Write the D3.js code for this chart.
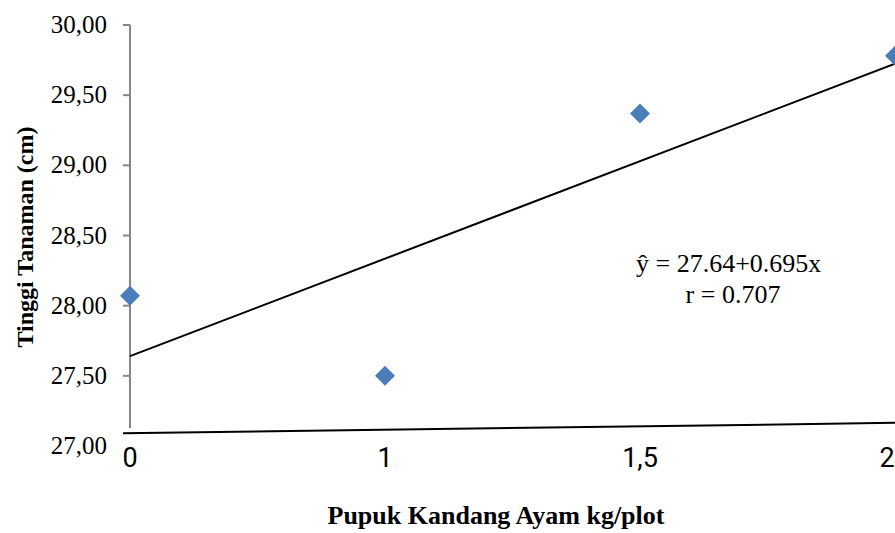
<!DOCTYPE html>
<html lang="en">
<head>
  <meta charset="UTF-8" />
  <title>Tinggi Tanaman vs Pupuk Kandang Ayam</title>
  <style>
    body { margin: 0; background: white; overflow: hidden; }
    svg { display: block; }
    text.serif { font-family: "Liberation Serif", "Times New Roman", serif; }
  </style>
</head>
<body>
<svg width="895" height="533"></svg>
<script src="https://d3js.org/d3.v7.min.js"></script>
<script>
// data
const doses = ["0", "1", "1,5", "2"];
const heights = [28.07, 27.50, 29.37, 29.78];
const yTicks = [27.0, 27.5, 28.0, 28.5, 29.0, 29.5, 30.0];
const trend = { a: 27.64, b: 0.695 };     // fitted on category index
const baseLine = [27.09, 27.165];         // the slanted line along the bottom

const width = 895, height = 533;
const svg = d3.select("svg");

const x = d3.scalePoint().domain(doses).range([130, 895]);
const y = d3.scaleLinear().domain([27, 30]).range([446, 25]);

// y axis (grey line + ticks on the left)
const gy = svg.append("g");
gy.append("line")
  .attr("x1", 130).attr("x2", 130)
  .attr("y1", y(30)).attr("y2", 428)
  .attr("stroke", "#868686").attr("stroke-width", 2);
gy.selectAll("line.tick")
  .data(yTicks.filter(d => d > 27))
  .join("line")
  .attr("class", "tick")
  .attr("x1", 123).attr("x2", 130)
  .attr("y1", d => y(d)).attr("y2", d => y(d))
  .attr("stroke", "#868686").attr("stroke-width", 2);
gy.selectAll("text")
  .data(yTicks)
  .join("text")
  .attr("class", "serif")
  .attr("x", 107)
  .attr("y", d => y(d) + 8)
  .attr("text-anchor", "end")
  .attr("font-size", 25)
  .text(d => d3.format(".2f")(d).replace(".", ","));

// bottom line
svg.append("line")
  .attr("x1", 123).attr("x2", x(doses[doses.length - 1]))
  .attr("y1", y(baseLine[0])).attr("y2", y(baseLine[1]))
  .attr("stroke", "black").attr("stroke-width", 2);

// x tick labels
svg.selectAll("text.xt")
  .data(doses)
  .join("text")
  .attr("class", "xt")
  .attr("x", d => Math.min(x(d), width - 8))
  .attr("y", 467)
  .attr("text-anchor", "middle")
  .attr("font-family", "Roboto, 'Open Sans', sans-serif")
  .attr("font-size", 27)
  .text(d => d);

// trend line
const idx = d3.range(doses.length);
svg.append("line")
  .attr("x1", x(doses[0])).attr("y1", y(trend.a))
  .attr("x2", x(doses[idx.length - 1])).attr("y2", y(trend.a + trend.b * (idx.length - 1)))
  .attr("stroke", "black").attr("stroke-width", 2);

// diamond markers
svg.selectAll("path.pt")
  .data(heights)
  .join("path")
  .attr("class", "pt")
  .attr("d", d3.symbol(d3.symbolSquare, 200)())
  .attr("transform", (d, i) => `translate(${x(doses[i])},${y(d)}) rotate(45)`)
  .attr("fill", "#4a7ebb");

// equation
svg.append("text").attr("class", "serif")
  .attr("x", 636).attr("y", 272).attr("font-size", 26)
  .text("ŷ  = 27.64+0.695x");
svg.append("text").attr("class", "serif")
  .attr("x", 733).attr("y", 303).attr("font-size", 26).attr("text-anchor", "middle")
  .text("r = 0.707");

// axis titles
svg.append("text").attr("class", "serif")
  .attr("transform", "translate(33,237) rotate(-90)")
  .attr("text-anchor", "middle")
  .attr("font-size", 24).attr("font-weight", "bold")
  .text("Tinggi Tanaman (cm)");
svg.append("text").attr("class", "serif")
  .attr("x", 496).attr("y", 524)
  .attr("text-anchor", "middle")
  .attr("font-size", 26).attr("font-weight", "bold")
  .text("Pupuk Kandang Ayam kg/plot");
</script>
</body>
</html>
